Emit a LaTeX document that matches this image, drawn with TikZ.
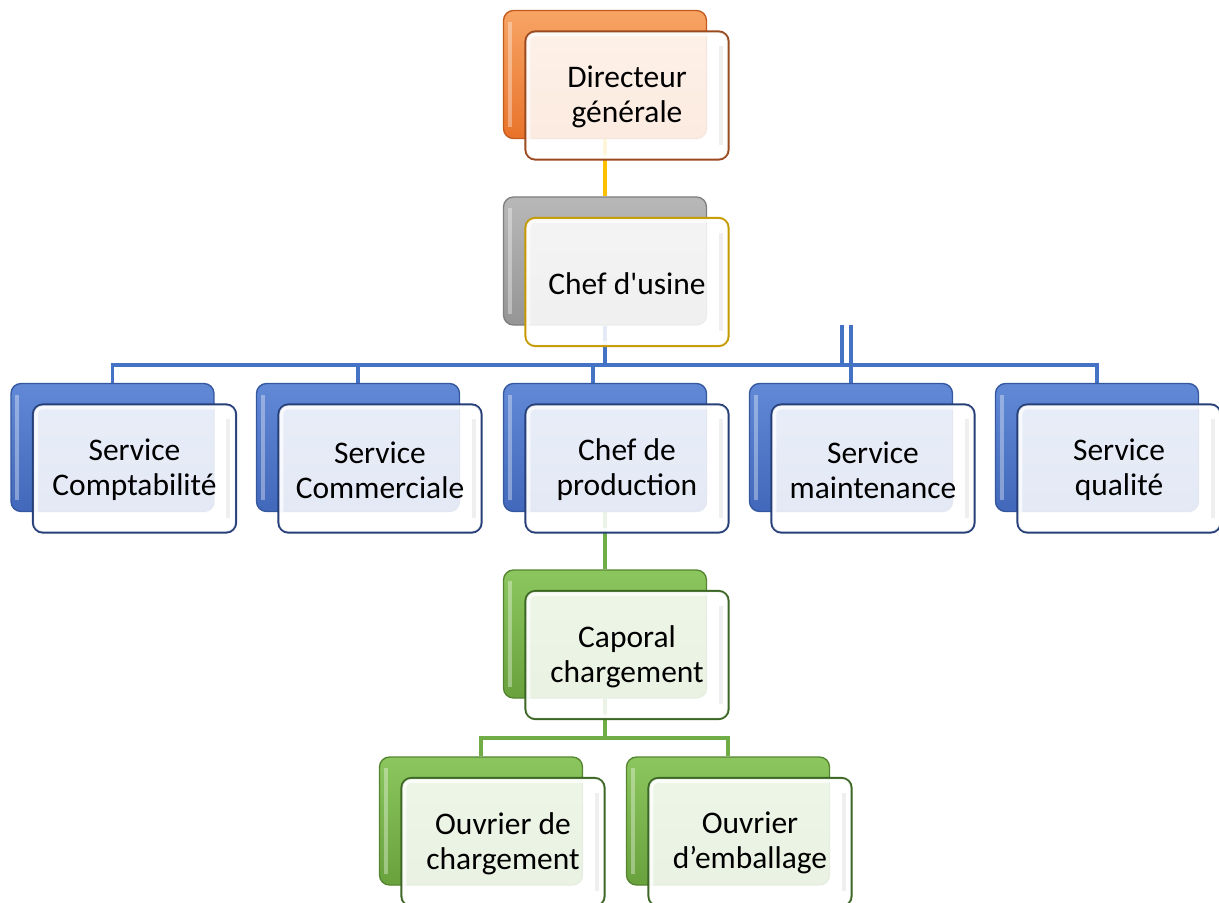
\documentclass[tikz,border=0pt]{standalone}
\usepackage{fontspec}
\setmainfont{Carlito}[Ligatures=TeXOff]
\usetikzlibrary{calc}
\pgfdeclarelayer{background}
\pgfsetlayers{background,main}

% colour schemes: back fill (top/bottom), back rim, front rim
\definecolor{orTop}{HTML}{F7A465}\definecolor{orBot}{HTML}{E8732A}\definecolor{orRim}{HTML}{C25A1C}\definecolor{orFront}{HTML}{9A4A1E}
\definecolor{grTop}{HTML}{B8B8B8}\definecolor{grBot}{HTML}{959595}\definecolor{grRim}{HTML}{7F7F7F}\definecolor{grFront}{HTML}{C49A00}
\definecolor{blTop}{HTML}{6289D6}\definecolor{blBot}{HTML}{4168BA}\definecolor{blRim}{HTML}{34579E}\definecolor{blFront}{HTML}{263F78}
\definecolor{gnTop}{HTML}{8CC65E}\definecolor{gnBot}{HTML}{69A23D}\definecolor{gnRim}{HTML}{548530}\definecolor{gnFront}{HTML}{3C6624}
\definecolor{lnYellow}{HTML}{FFC000}
\definecolor{lnBlue}{HTML}{4472C4}
\definecolor{lnGreen}{HTML}{70AD47}

\tikzset{
  backbox/.style={rectangle, rounded corners=7.5pt, minimum width=152.25pt,
    minimum height=96pt, inner sep=0pt, line width=1pt},
  frontbox/.style={rectangle, rounded corners=7.5pt, minimum width=152.25pt,
    minimum height=96pt, inner sep=0pt, line width=1.7pt, fill=white,
    fill opacity=0.86},
  cardtext/.style={align=center, inner sep=0pt,
    font=\fontsize{23.6}{26.2}\selectfont},
  orangeback/.style={backbox, top color=orTop, bottom color=orBot, draw=orRim},
  orangefront/.style={frontbox, draw=orFront},
  grayback/.style={backbox, top color=grTop, bottom color=grBot, draw=grRim},
  grayfront/.style={frontbox, draw=grFront},
  blueback/.style={backbox, top color=blTop, bottom color=blBot, draw=blRim},
  bluefront/.style={frontbox, draw=blFront},
  greenback/.style={backbox, top color=gnTop, bottom color=gnBot, draw=gnRim},
  greenfront/.style={frontbox, draw=gnFront},
  link/.style={line width=2.6pt},
}

% one org-chart unit: back plate (#1-b), front card (#1) and its label (#1-t)
\newcommand\orgunit[5]{%
  \node[#4back] (#1-b) at (#2-22,#3-21) {};
  \draw[white, opacity=0.35, line width=3pt]
    ([shift={(7,12)}]#1-b.north west) -- ([shift={(7,-12)}]#1-b.south west);
  \node[#4front] (#1) at (#2,#3) {};
  \draw[white, opacity=0.7, line width=3pt, rounded corners=5pt]
    ([shift={(4,4)}]#1.north west) rectangle ([shift={(-4,-4)}]#1.south east);
  \draw[black!20, opacity=0.3, line width=3pt]
    ([shift={(-9,16)}]#1.north east) -- ([shift={(-9,-16)}]#1.south east);
  \node[cardtext] (#1-t) at ([yshift=-1]#1.center) {#5};
}

\begin{document}
\begin{tikzpicture}[x=0.75pt, y=-0.75pt]
\useasboundingbox (0,0) rectangle (1219,902);

% top of the chart
\orgunit{dg}{627}{95.5}{orange}{Directeur\\générale}
\orgunit{cu}{627}{282}{gray}{Chef d'usine}

% services
\orgunit{sc}{134.5}{468.5}{blue}{Service\\Comptabilité}
\orgunit{scm}{380}{468.5}{blue}{Service\\Commerciale}
\orgunit{cp}{627}{468.5}{blue}{Chef de\\production}
\orgunit{sm}{873}{468.5}{blue}{Service\\maintenance}
\orgunit{sq}{1119}{468.5}{blue}{Service\\qualité}

% production line
\orgunit{ca}{627}{655}{green}{Caporal\\chargement}
\orgunit{oc}{503}{842}{green}{Ouvrier de\\chargement}
\orgunit{oe}{750}{842}{green}{Ouvrier\\d’emballage}

% junction points of the connectors
\coordinate (bus) at (605,365);
\coordinate (cpjoin) at (593,365);
\coordinate (tick) at (842,325);
\coordinate (gbus) at (605,738);

\begin{pgfonlayer}{background}
  \draw[link, lnYellow] (dg-b.south) -- (cu-b.north);
  \draw[link, lnBlue] (cu-b.south) -- (cu-b.south |- bus);
  \draw[link, lnBlue] (sc-b.north) -- (sc-b.north |- bus) -| (sq-b.north);
  \draw[link, lnBlue] (scm-b.north |- bus) -- (scm-b.north);
  \draw[link, lnBlue] (cpjoin) -- (cpjoin |- cp-b.north);
  \draw[link, lnBlue] (tick) -- (tick |- bus);
  \draw[link, lnBlue] (sm-b.north |- tick) -- (sm-b.north);
  \draw[link, lnGreen] (cp-b.south) -- (ca-b.north);
  \draw[link, lnGreen] (ca-b.south) -- (ca-b.south |- gbus);
  \draw[link, lnGreen] (oc-b.north) -- (oc-b.north |- gbus) -| (oe-b.north);
\end{pgfonlayer}
\end{tikzpicture}
\end{document}
